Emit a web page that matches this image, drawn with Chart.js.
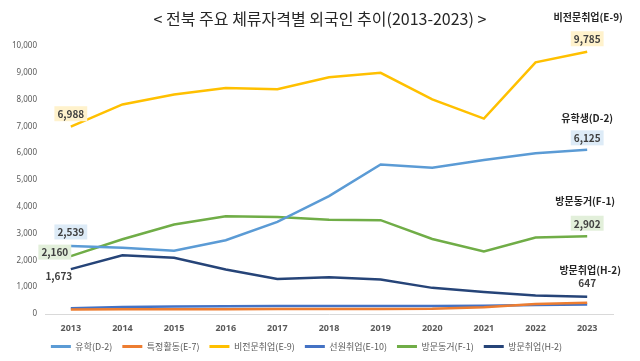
<!DOCTYPE html>
<html>
<head>
<meta charset="utf-8">
<script src="https://cdn.jsdelivr.net/npm/chart.js@4/dist/chart.umd.min.js"></script>
<style>
  html, body { margin: 0; padding: 0; background: #ffffff; }
  #wrap { width: 640px; height: 361px; position: relative; }
</style>
</head>
<body>
<div id="wrap"><canvas id="chart" width="640" height="361"></canvas></div>
<script>
// years on the x axis
const years = ['2013', '2014', '2015', '2016', '2017', '2018', '2019', '2020', '2021', '2022', '2023'];

// series values (persons)
const d2Values  = [2539, 2470, 2360, 2750, 3440, 4400, 5580, 5460, 5750, 6000, 6125];
const e7Values  = [170, 175, 180, 180, 185, 185, 190, 195, 250, 370, 420];
const e9Values  = [6988, 7820, 8190, 8430, 8390, 8830, 9000, 8010, 7290, 9390, 9785];
const e10Values = [215, 260, 280, 285, 300, 300, 300, 300, 310, 340, 350];
const f1Values  = [2160, 2790, 3340, 3650, 3620, 3520, 3500, 2800, 2330, 2850, 2902];
const h2Values  = [1673, 2190, 2100, 1660, 1310, 1370, 1290, 975, 820, 690, 647];

const seriesNames = ['유학(D-2)', '특정활동(E-7)', '비전문취업(E-9)', '선원취업(E-10)', '방문동거(F-1)', '방문취업(H-2)'];
const seriesColors = ['#5B9BD5', '#ED7D31', '#FFC000', '#4472C4', '#70AD47', '#264478'];
const seriesData = [d2Values, e7Values, e9Values, e10Values, f1Values, h2Values];

// y axis range
const yMax = 10000;
const yStep = 1000;

const KFONT = '"Noto Sans CJK KR", "Noto Sans", sans-serif';

// value callouts: dataset index, point index, offset from the point, box colour
const valueLabels = [
  { ds: 2, i: 0,  dx: 0,   dy: -13, box: '#FFF2CC' },
  { ds: 0, i: 0,  dx: 0,   dy: -14, box: '#DDEBF7' },
  { ds: 4, i: 0,  dx: -16, dy: -4,  box: '#E2EFDA' },
  { ds: 5, i: 0,  dx: -12, dy: 7,   box: null },
  { ds: 2, i: 10, dx: 0,   dy: -13, box: '#FFF2CC' },
  { ds: 0, i: 10, dx: 0,   dy: -12, box: '#DDEBF7' },
  { ds: 4, i: 10, dx: 0,   dy: -13, box: '#E2EFDA' },
  { ds: 5, i: 10, dx: 0,   dy: -14, box: null }
];

// series names written at the right end
const endNames = [
  { ds: 2, text: '비전문취업(E-9)', dx: 1,  dy: -35 },
  { ds: 0, text: '유학생(D-2)',     dx: 0,  dy: -32 },
  { ds: 4, text: '방문동거(F-1)',   dx: -2, dy: -35 },
  { ds: 5, text: '방문취업(H-2)',   dx: 3,  dy: -26 }
];

const annotatePlugin = {
  id: 'annotate',
  afterDatasetsDraw(chart) {
    const { ctx, scales: { x, y } } = chart;
    ctx.save();

    // title
    ctx.fillStyle = '#262626';
    ctx.font = '16px ' + KFONT;
    ctx.textAlign = 'center';
    ctx.textBaseline = 'middle';
    ctx.fillText('< 전북 주요 체류자격별 외국인 추이(2013-2023) >', 320, 19);

    // value callouts
    ctx.font = 'bold 10px ' + KFONT;
    valueLabels.forEach(l => {
      const v = seriesData[l.ds][l.i];
      const px = x.getPixelForValue(l.i) + l.dx;
      const py = y.getPixelForValue(v) + l.dy;
      const txt = v.toLocaleString('en-US');
      const w = ctx.measureText(txt).width + 6;
      if (l.box) {
        ctx.fillStyle = l.box;
        ctx.fillRect(px - w / 2, py - 7.5, w, 15);
      }
      ctx.fillStyle = '#404040';
      ctx.fillText(txt, px, py + 0.5);
    });

    // series names
    ctx.font = 'bold 10px ' + KFONT;
    ctx.fillStyle = '#262626';
    endNames.forEach(n => {
      const last = seriesData[n.ds].length - 1;
      const px = x.getPixelForValue(last) + n.dx;
      const py = y.getPixelForValue(seriesData[n.ds][last]) + n.dy;
      ctx.fillText(n.text, px, py);
    });

    ctx.restore();
  }
};

const ctx = document.getElementById('chart').getContext('2d');

new Chart(ctx, {
  type: 'line',
  data: {
    labels: years,
    datasets: seriesNames.map((name, k) => ({
      label: name,
      data: seriesData[k],
      borderColor: seriesColors[k],
      backgroundColor: seriesColors[k],
      borderWidth: 2.5,
      pointRadius: 0,
      tension: 0,
      fill: false
    }))
  },
  options: {
    responsive: false,
    animation: false,
    layout: { padding: { top: 46, right: 27, left: 0, bottom: 0 } },
    plugins: {
      title: { display: false },
      tooltip: { enabled: false },
      legend: {
        position: 'bottom',
        labels: {
          boxWidth: 20,
          boxHeight: 3,
          padding: 10,
          color: '#595959',
          font: { family: KFONT, size: 9 },
          generateLabels(chart) {
            return Chart.defaults.plugins.legend.labels.generateLabels(chart).map(it => {
              it.fillStyle = it.strokeStyle;
              it.lineWidth = 0;
              return it;
            });
          }
        }
      }
    },
    scales: {
      x: {
        offset: true,
        grid: { display: false, drawTicks: false },
        border: { display: true, color: '#D9D9D9', width: 1 },
        ticks: {
          color: '#595959',
          padding: 9,
          font: { family: '"Noto Sans", sans-serif', size: 9, weight: 'bold' }
        },
        afterFit(scale) { scale.height = 18; }
      },
      y: {
        min: 0,
        max: yMax,
        grid: { display: false, drawTicks: false },
        border: { display: false },
        ticks: {
          stepSize: yStep,
          color: '#595959',
          padding: 8,
          font: { family: '"Noto Sans", sans-serif', size: 8 },
          callback: v => v.toLocaleString('en-US')
        },
        afterFit(scale) { scale.width = 45; }
      }
    }
  },
  plugins: [annotatePlugin]
});
</script>
</body>
</html>
